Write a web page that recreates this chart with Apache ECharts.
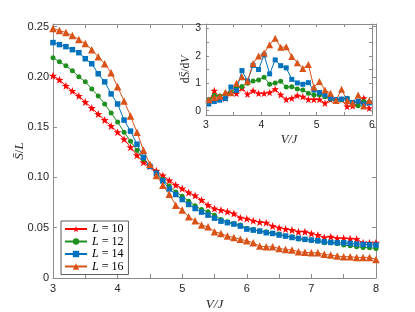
<!DOCTYPE html>
<html><head><meta charset="utf-8">
<script src="https://cdn.jsdelivr.net/npm/echarts@6/dist/echarts.min.js"></script>
<style>html,body{margin:0;padding:0;background:#fff}#c{width:415px;height:312px}</style>
</head><body><div id="c"></div>
<script>
const V = [3.0,3.1,3.2,3.3,3.4,3.5,3.6,3.7,3.8,3.9,4.0,4.1,4.2,4.3,4.4,4.5,4.6,4.7,4.8,4.9,5.0,5.1,5.2,5.3,5.4,5.5,5.6,5.7,5.8,5.9,6.0,6.1,6.2,6.3,6.4,6.5,6.6,6.7,6.8,6.9,7.0,7.1,7.2,7.3,7.4,7.5,7.6,7.7,7.8,7.9,8.0];
const S_L10 = [.201,.197,.191,.186,.181,.175,.169,.163,.157,.151,.145,.138,.130,.122,.115,.111,.1065,.102,.097,.0925,.089,.085,.082,.0775,.0725,.069,.0675,.066,.064,.060,.059,.057,.0556,.055,.0516,.050,.0486,.0476,.046,.046,.0443,.0427,.0403,.041,.0394,.0394,.039,.0387,.035,.035,.035];
const S_L12 = [.219,.215,.211,.206,.200,.195,.188,.181,.173,.164,.155,.145,.136,.127,.118,.111,.1045,.098,.0915,.0856,.0813,.0764,.0717,.068,.0658,.0625,.0582,.0559,.0542,.0526,.0493,.0483,.0466,.046,.0443,.0437,.0417,.041,.0387,.0384,.0377,.0367,.035,.035,.0344,.0327,.032,.031,.0304,.030,.0294];
const S_L14 = [.234,.232,.230,.227,.224,.218,.213,.203,.195,.183,.173,.157,.146,.133,.120,.111,.104,.0966,.0885,.083,.078,.0731,.0691,.0655,.0625,.0595,.0565,.055,.0536,.0516,.0486,.0476,.0466,.045,.0443,.0427,.0417,.0403,.0394,.0384,.0377,.037,.036,.0354,.035,.035,.0344,.0337,.0334,.033,.0327];
const S_L16 = [.248,.246,.244,.241,.237,.233,.227,.220,.213,.204,.190,.176,.161,.145,.127,.113,.102,.0923,.0833,.0724,.0675,.0608,.0569,.0526,.0509,.046,.0443,.0417,.0403,.0384,.037,.035,.0317,.031,.031,.0294,.0284,.0278,.0261,.0255,.0251,.0251,.0235,.0228,.0218,.0212,.0212,.0205,.0205,.0205,.0185];

const Vmid = [3.05,3.15,3.25,3.35,3.45,3.55,3.65,3.75,3.85,3.95,4.05,4.15,4.25,4.35,4.45,4.55,4.65,4.75,4.85,4.95,5.05,5.15,5.25,5.35,5.45,5.55,5.65,5.75,5.85,5.95];
const D_L10 = [.33,.73,.45,.45,.66,.63,.82,.60,.73,.63,.63,.66,.78,.58,.41,.45,.55,.51,.41,.41,.41,.27,.41,.39,.41,.15,.17,.27,.45,.09];
const D_L12 = [.41,.55,.53,.57,.66,.84,.88,1.0,1.08,1.12,1.22,.96,1.01,1.07,.86,.87,.79,.75,.63,.57,.57,.51,.42,.38,.40,.45,.25,.18,.33,.30];
const D_L14 = [.24,.33,.38,.44,.86,.74,1.46,1.08,1.65,1.50,2.03,1.34,1.85,1.64,1.56,1.14,1.01,.96,1.02,.75,.66,.57,.46,.40,.42,.44,.30,.34,.24,.28];
const D_L16 = [.40,.48,.52,.67,.65,1.0,1.24,1.07,1.72,1.99,2.10,2.40,2.64,2.31,2.33,1.97,1.75,1.54,1.68,.86,1.06,.75,.63,.37,.78,.36,.27,.57,.17,.37];

const Lnames = ['10','12','14','16'];
const mainXTicks = [3,3.5,4,4.5,5,5.5,6,6.5,7,7.5,8];
const mainXLabels = [3,4,5,6,7,8];
const mainYTicks = [0,0.05,0.10,0.15,0.20,0.25];
const insetXTicks = [3,3.5,4,4.5,5,5.5,6];
const insetXLabels = [3,4,5,6];
const insetYTicks = [0,0.5,1,1.5,2,2.5,3];
const insetYLabels = [0,1,2,3];

const colors = ['#ff0000','#1f8f1f','#0072bd','#d95319'];
const star = 'path://M0,-10 L2.35,-3.24 L9.51,-3.09 L3.8,1.24 L5.88,8.09 L0,4 L-5.88,8.09 L-3.8,1.24 L-9.51,-3.09 L-2.35,-3.24 Z';
const symbols = [star,'circle','rect','triangle'];
const symSizes = [8,5,5.5,7.5];
const insetSymSizes = [7.5,5,5,7];

const axCol = '#8c8c8c';
const lblCol = '#262626';
const sans = 'Liberation Sans';
const serif = 'Liberation Serif';

function zip(xs, ys){ return xs.map((x,i)=>[x, ys[i]]); }

const mainData = [S_L10,S_L12,S_L14,S_L16];
const insetData = [D_L10,D_L12,D_L14,D_L16];

const series = [];
mainData.forEach((d,i)=>{
  series.push({
    name: 'L' + Lnames[i], type:'line', xAxisIndex:0, yAxisIndex:0,
    data: zip(V,d), symbol: symbols[i], symbolSize: symSizes[i],
    lineStyle:{color:colors[i], width:1}, itemStyle:{color:colors[i]},
    z: 2, animation:false
  });
});
insetData.forEach((d,i)=>{
  series.push({
    name: 'L' + Lnames[i], type:'line', xAxisIndex:2, yAxisIndex:2,
    data: zip(Vmid,d), symbol: symbols[i], symbolSize: insetSymSizes[i],
    lineStyle:{color:colors[i], width:1}, itemStyle:{color:colors[i]},
    z: 6, animation:false
  });
});

function axisBase(extra){
  return Object.assign({
    type:'value', axisLine:{show:true, onZero:false, lineStyle:{color:axCol, width:1}},
    splitLine:{show:false},
    axisTick:{show:true, inside:true, length:4, lineStyle:{color:axCol}},
    axisLabel:{color:lblCol, fontFamily:sans, fontSize:11}
  }, extra);
}

const option = {
  animation:false,
  backgroundColor:'#fff',
  grid:[
    {left:53, top:24, width:323, height:254, show:false, z:0, containLabel:false, outerBoundsMode:'none'},
    {left:206, top:24, width:166, height:91, show:true, backgroundColor:'#fff', borderWidth:0, z:4, containLabel:false, outerBoundsMode:'none'}
  ],
  xAxis:[
    axisBase({gridIndex:0, position:'bottom', min:3, max:8,
      axisTick:{show:true, inside:true, length:4, lineStyle:{color:axCol}, customValues: mainXTicks},
      axisLabel:{color:lblCol, fontFamily:sans, fontSize:11, margin:5, customValues: mainXLabels},
      name:'V/J', nameLocation:'middle', nameGap:20, nameMoveOverlap:false,
      nameTextStyle:{fontFamily:serif, fontStyle:'italic', fontSize:13, color:lblCol}}),
    axisBase({gridIndex:0, position:'top', min:3, max:8,
      axisTick:{show:true, inside:true, length:4, lineStyle:{color:axCol}, customValues: mainXTicks},
      axisLabel:{show:false}}),
    axisBase({gridIndex:1, position:'bottom', min:3, max:6, z:8,
      axisTick:{show:true, inside:true, length:3, lineStyle:{color:axCol}, customValues: insetXTicks},
      axisLabel:{color:lblCol, fontFamily:sans, fontSize:10.5, margin:5, customValues: insetXLabels},
      name:'V/J', nameLocation:'middle', nameGap:18, nameMoveOverlap:false,
      nameTextStyle:{fontFamily:serif, fontStyle:'italic', fontSize:12.5, color:lblCol}}),
    axisBase({gridIndex:1, position:'top', min:3, max:6, z:8,
      axisTick:{show:true, inside:true, length:3, lineStyle:{color:axCol}, customValues: insetXTicks},
      axisLabel:{show:false}})
  ],
  yAxis:[
    axisBase({gridIndex:0, position:'left', min:0, max:0.2525,
      axisTick:{show:true, inside:true, length:4, lineStyle:{color:axCol}, customValues: mainYTicks},
      axisLabel:{color:lblCol, fontFamily:sans, fontSize:11, margin:4, customValues: mainYTicks,
        formatter: v => v === 0 ? '0' : v.toFixed(2)},
      name:'{i|S̄}{r|/}{i|L}', nameLocation:'middle', nameGap:27, nameRotate:90, nameMoveOverlap:false,
      nameTextStyle:{color:lblCol, rich:{
        i:{fontFamily:serif, fontStyle:'italic', fontSize:13, color:lblCol},
        r:{fontFamily:serif, fontSize:13, color:lblCol}}}}),
    axisBase({gridIndex:0, position:'right', min:0, max:0.2525,
      axisTick:{show:true, inside:true, length:4, lineStyle:{color:axCol}, customValues: mainYTicks},
      axisLabel:{show:false}}),
    axisBase({gridIndex:1, position:'left', min:-0.16, max:3.16, z:8,
      axisTick:{show:true, inside:true, length:3, lineStyle:{color:axCol}, customValues: insetYTicks},
      axisLabel:{color:lblCol, fontFamily:sans, fontSize:10.5, margin:5, customValues: insetYLabels},
      name:'{r|d}{i|S̄}{r|/d}{i|V}', nameLocation:'middle', nameGap:14, nameRotate:90, nameMoveOverlap:false,
      nameTextStyle:{color:lblCol, rich:{
        i:{fontFamily:serif, fontStyle:'italic', fontSize:11.5, color:lblCol},
        r:{fontFamily:serif, fontSize:11.5, color:lblCol}}}}),
    axisBase({gridIndex:1, position:'right', min:-0.16, max:3.16, z:8,
      axisTick:{show:true, inside:true, length:3, lineStyle:{color:axCol}, customValues: insetYTicks},
      axisLabel:{show:false}})
  ],
  legend:{
    data: Lnames.map(n=>'L'+n),
    orient:'vertical', left:61, top:221,
    itemWidth:22, itemHeight:8, itemGap:0.5,
    padding:[2,5,2,3],
    borderColor:'#333', borderWidth:0.8, backgroundColor:'#fff',
    formatter: n => '{i|L}{r| = ' + n.slice(1) + '}',
    textStyle:{rich:{
      i:{fontFamily:serif, fontStyle:'italic', fontSize:12, color:'#000', lineHeight:11.5},
      r:{fontFamily:serif, fontSize:12, color:'#000', lineHeight:11.5}}},
    z: 10
  },
  series: series
};

const chart = echarts.init(document.getElementById('c'), null, {renderer:'canvas'});
chart.setOption(option);
</script>
</body></html>
